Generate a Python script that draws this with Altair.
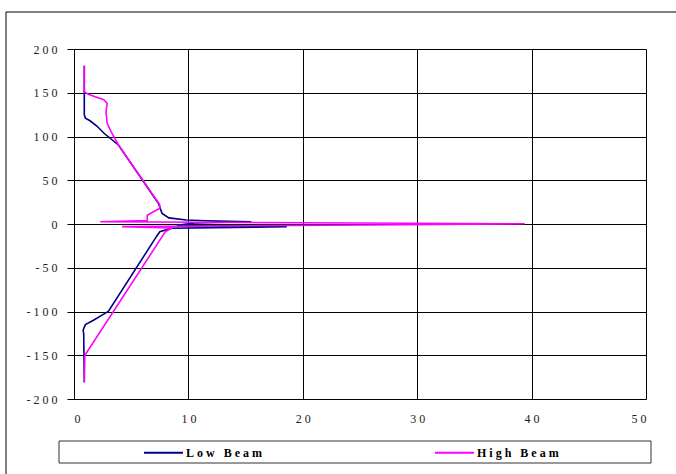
import altair as alt
import pandas as pd

# Beam profiles: horizontal reach (x) against vertical position (y), in sweep order
low_x = [0.9, 0.9, 1.0, 1.4, 2.0, 2.6, 3.9, 7.4, 7.7, 8.3, 9.8, 11.5, 15.5, 10.5, 9.0,
         18.6, 8.5, 7.5, 7.2, 3.0, 2.6, 1.7, 1.0, 0.8, 0.85, 0.9]
low_y = [181, 125, 121, 118, 112, 104, 90, 23, 12, 7, 4.6, 3.8, 2.6, 1.2, -1.5,
         -3.2, -4.8, -8.8, -14.5, -100, -103, -110, -115, -121, -126, -181]

high_x = [0.9, 0.9, 1.3, 2.6, 2.9, 2.8, 2.9, 3.3, 3.9, 7.5, 7.5, 6.4, 6.4, 2.3,
          39.4, 4.2, 8.6, 8.0, 0.95, 0.9]
high_y = [181, 151, 148, 142, 138, 128, 115, 104, 90, 22, 18, 10, 4, 2.6,
          0.2, -3.0, -4.5, -8.5, -150, -181]

series = ["Low Beam", "High Beam"]
colors = ["#000080", "#FF00FF"]

x_ticks = [0, 10, 20, 30, 40, 50]
y_ticks = [-200, -150, -100, -50, 0, 50, 100, 150, 200]

low = pd.DataFrame({"x": low_x, "y": low_y, "beam": series[0], "i": range(len(low_x))})
high = pd.DataFrame({"x": high_x, "y": high_y, "beam": series[1], "i": range(len(high_x))})

# Letter-spaced labels (non-breaking spaces so SVG keeps them)
spaced = "join(split(toString(datum.value), ''), '\u00a0')"
spaced_legend = "join(split(datum.label, ''), '\u00a0')"
serif = "Liberation Serif"

x_enc = alt.X(
    "x:Q",
    scale=alt.Scale(domain=[0, 50], nice=False, zero=False),
    axis=alt.Axis(
        values=x_ticks, title=None, grid=True, gridColor="#000", gridOpacity=1,
        ticks=False, domain=False, labelPadding=14, labelFont=serif,
        labelFontSize=12, labelColor="#222", labelExpr=spaced,
    ),
)
y_enc = alt.Y(
    "y:Q",
    scale=alt.Scale(domain=[-200, 200], nice=False, zero=False),
    axis=alt.Axis(
        values=y_ticks, title=None, grid=True, gridColor="#000", gridOpacity=1,
        ticks=True, tickSize=7, tickColor="#000", domain=False, labelPadding=10,
        labelFont=serif, labelFontSize=12, labelColor="#222", labelExpr=spaced,
    ),
)
color_enc = alt.Color(
    "beam:N",
    scale=alt.Scale(domain=series, range=colors),
    legend=alt.Legend(
        title=None, orient="none", legendX=69, legendY=383, direction="horizontal",
        columns=2, columnPadding=169, symbolType="stroke", symbolSize=1521,
        symbolStrokeWidth=2, labelOffset=2, labelFont=serif, labelFontSize=12,
        labelFontWeight="bold", labelColor="#000", padding=0,
        labelExpr=spaced_legend,
    ),
)

def beam_line(df):
    return alt.Chart(df).mark_line(strokeWidth=1.6).encode(
        x=x_enc, y=y_enc, color=color_enc, order=alt.Order("i:Q")
    )

frame_df = pd.DataFrame({"k": [0]})

# Legend box and outer chart frame
legend_box = alt.Chart(frame_df).mark_rect(
    fill=None, stroke="#333", strokeWidth=1, clip=False
).encode(x=alt.value(-15), x2=alt.value(577), y=alt.value(392), y2=alt.value(414))

outer_frame = alt.Chart(frame_df).mark_rect(
    fill=None, stroke="#000", strokeWidth=1, clip=False
).encode(x=alt.value(-68), x2=alt.value(650), y=alt.value(-37), y2=alt.value(460))

chart = alt.layer(
    outer_frame, legend_box, beam_line(low), beam_line(high)
).properties(
    width=572, height=350,
    autosize=alt.AutoSizeParams(type="none"),
    padding={"left": 74, "top": 49, "right": 30, "bottom": 75},
).configure_view(stroke=None).configure(background="white")

chart.save("out.html", embed_options={"renderer": "svg", "actions": False})
